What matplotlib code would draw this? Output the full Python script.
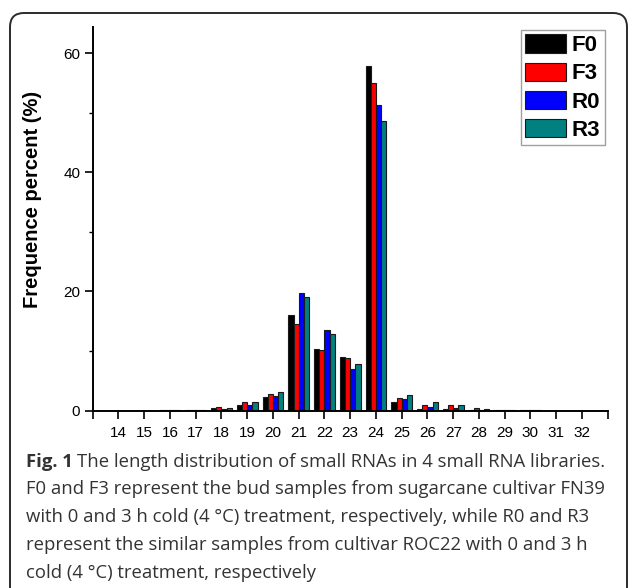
import matplotlib
matplotlib.use("Agg")
import matplotlib.pyplot as plt
import numpy as np
from matplotlib.patches import FancyBboxPatch
from matplotlib.transforms import IdentityTransform
from matplotlib import font_manager

lengths = [14, 15, 16, 17, 18, 19, 20, 21, 22, 23, 24, 25, 26, 27, 28, 29, 30, 31, 32]
F0 = [0.0, 0.0, 0.02, 0.15, 0.4, 0.95, 2.2, 16.0, 10.3, 9.0, 57.9, 1.5, 0.3, 0.17, 0.05, 0.02, 0.02, 0.0, 0.0]
F3 = [0.0, 0.0, 0.02, 0.1, 0.65, 1.5, 2.75, 14.6, 10.2, 8.8, 55.1, 2.1, 0.9, 0.85, 0.5, 0.15, 0.03, 0.0, 0.0]
R0 = [0.0, 0.0, 0.02, 0.05, 0.3, 0.95, 2.4, 19.7, 13.5, 6.9, 51.4, 1.9, 0.65, 0.45, 0.1, 0.02, 0.02, 0.0, 0.0]
R3 = [0.0, 0.0, 0.02, 0.05, 0.5, 1.45, 3.1, 19.1, 12.9, 7.8, 48.6, 2.6, 1.35, 0.85, 0.25, 0.05, 0.02, 0.0, 0.0]
series_names = ["F0", "F3", "R0", "R3"]
series_colors = ["#000000", "#ff0000", "#0000ff", "#008080"]

caption_lines = [
    "The length distribution of small RNAs in 4 small RNA libraries.",
    "F0 and F3 represent the bud samples from sugarcane cultivar FN39",
    "with 0 and 3 h cold (4 \u00b0C) treatment, respectively, while R0 and R3",
    "represent the similar samples from cultivar ROC22 with 0 and 3 h",
    "cold (4 \u00b0C) treatment, respectively",
]

installed = {f.name for f in font_manager.fontManager.ttflist}
narrow = 'Liberation Sans Narrow' if 'Liberation Sans Narrow' in installed else 'Liberation Sans'

W, H = 629, 588
fig = plt.figure(figsize=(W / 100, H / 100), dpi=100)
plt.rcParams['font.family'] = ['Liberation Sans', 'DejaVu Sans']

# outer rounded frame
frame = FancyBboxPatch((10, -20), 617, 595, boxstyle="round,pad=0,rounding_size=14",
                       transform=IdentityTransform(), fill=False, edgecolor="#2b2b2b", linewidth=1.4)
fig.patches.append(frame)

ax = fig.add_axes([92.7 / W, 1 - 410.5 / H, (607.7 - 92.7) / W, (410.5 - 26.7) / H])
x = np.array(lengths, dtype=float)
bw = 0.2
data = [F0, F3, R0, R3]
handles = []
for i, (vals, name, col) in enumerate(zip(data, series_names, series_colors)):
    h = ax.bar(x + (i - 1.5) * bw, vals, width=bw, color=col, edgecolor="#1a1a1a",
               linewidth=0.8, label=name, zorder=2)
    handles.append(h)

ax.set_xlim(13, 33)
ax.set_ylim(0, 64.5)
ax.set_xticks(np.arange(13, 34))
ax.set_xticklabels([""] + [str(v) for v in lengths] + [""], family=[narrow, 'DejaVu Sans'])
ax.set_yticks([0, 20, 40, 60])
ax.set_yticks([10, 30, 50], minor=True)
ax.tick_params(axis='x', direction='out', length=6, width=1.2, pad=5, labelsize=11)
ax.tick_params(axis='y', which='major', direction='out', length=6, width=1.2, pad=3, labelsize=11)
ax.tick_params(axis='y', which='minor', direction='out', length=3, width=1.0)
for s in ["top", "right"]:
    ax.spines[s].set_visible(False)
for s in ["left", "bottom"]:
    ax.spines[s].set_linewidth(1.4)
ax.set_ylabel("Frequence percent (%)", fontsize=14.5, fontweight="bold")
ax.yaxis.set_label_coords(-0.098, 0.55)

leg = ax.legend(handles=handles, loc="upper left", bbox_to_anchor=(520.7 / W, 1 - 30 / H),
                bbox_transform=fig.transFigure, frameon=True, fancybox=False,
                prop={"weight": "bold", "size": 16, "family": [narrow, 'DejaVu Sans']},
                borderpad=0.2, handletextpad=0.25,
                borderaxespad=0, labelspacing=0.28, handlelength=1.85, handleheight=0.9)
leg.get_frame().set_edgecolor("#888888")
leg.get_frame().set_linewidth(1.0)

# caption
cap_font = ['Open Sans', 'DejaVu Sans']
cap_col = "#333333"
cap_size = 13.3
x0 = 26
base0 = 466.7
step = 27.8
t = fig.text(x0 / W, 1 - base0 / H, "Fig. 1", fontsize=cap_size, fontweight="bold",
             family=cap_font, color=cap_col, va="baseline", ha="left")
fig.canvas.draw()
bb = t.get_window_extent()
fig.text((bb.x1 + 4) / W, 1 - base0 / H, caption_lines[0], fontsize=cap_size,
         family=cap_font, color=cap_col, va="baseline", ha="left")
for k, line in enumerate(caption_lines[1:], start=1):
    fig.text(x0 / W, 1 - (base0 + k * step) / H, line, fontsize=cap_size,
             family=cap_font, color=cap_col, va="baseline", ha="left")

fig.savefig("out.png", dpi=100)
